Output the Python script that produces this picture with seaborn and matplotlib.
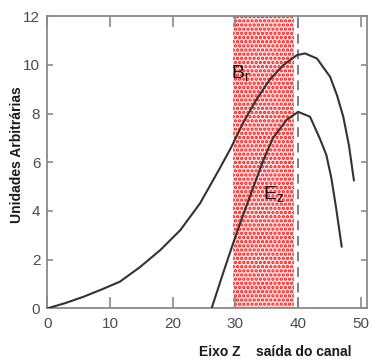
import matplotlib
matplotlib.use("Agg")
import matplotlib.pyplot as plt
import seaborn as sns
import pandas as pd

# ---- data ----
br_x = [0, 2.9, 5.8, 8.7, 11.6, 14.8, 18.0, 21.2, 24.35, 27.5, 29.3, 31.2, 33.4, 35.5, 37.6,
        39.8, 41.1, 43.0, 45.1, 46.2, 47.2, 48.1, 48.9]
br_y = [0, 0.22, 0.48, 0.78, 1.1, 1.7, 2.39, 3.21, 4.31, 5.75, 6.6, 7.6, 8.6, 9.4, 9.98,
        10.4, 10.47, 10.26, 9.51, 8.75, 7.87, 6.7, 5.25]

ez_x = [26.2, 28.1, 30.2, 32.1, 34.4, 36.0, 38.2, 40.0, 41.9, 43.5, 44.5, 45.3, 46.1, 46.95]
ez_y = [0.0, 1.5, 3.1, 4.45, 6.05, 7.0, 7.75, 8.07, 7.87, 6.95, 6.3, 5.35, 4.05, 2.53]

x_ticks = [0, 10, 20, 30, 40, 50]
y_ticks = [0, 2, 4, 6, 8, 10, 12]
band_x = [29.6, 39.4]
exit_x = 40

y_label = "Unidades Arbitrárias"
x_label_left = "Eixo Z"
x_label_right = "saída do canal"

sns.set_style("white")
plt.rcParams["font.family"] = ["Liberation Sans", "DejaVu Sans"]
plt.rcParams["hatch.linewidth"] = 1.6

fig = plt.figure(figsize=(3.71, 3.59), dpi=100)
ax = fig.add_axes([0.1275, 0.141, 0.862, 0.814])

# red speckled region
ax.axvspan(band_x[0], band_x[1], facecolor="#ffe6e6", edgecolor="#ff1010",
           hatch="....", linewidth=0, zorder=0)
ax.axvline(exit_x, color="#808080", lw=1.4, dashes=(5, 3), zorder=1)

df_b = pd.DataFrame({"x": br_x, "y": br_y})
df_e = pd.DataFrame({"x": ez_x, "y": ez_y})
sns.lineplot(data=df_b, x="x", y="y", ax=ax, color="#333333", lw=1.5, sort=False, zorder=3)
sns.lineplot(data=df_e, x="x", y="y", ax=ax, color="#333333", lw=1.5, sort=False, zorder=3)

ax.set_xlim(0, 51)
ax.set_ylim(0, 12)
ax.set_xticks(x_ticks)
ax.set_yticks(y_ticks)
ax.set_xlabel("")
ax.set_ylabel("")

for s in ax.spines.values():
    s.set_visible(True)
    s.set_color("#8a8a8a")
    s.set_linewidth(1.3)

ax.tick_params(axis="x", direction="in", length=8, width=1.2, color="#8a8a8a",
               top=True, bottom=True, labelsize=11, labelcolor="#4a4a58", pad=6)
ax.tick_params(axis="y", direction="in", length=4.5, width=1.2, color="#8a8a8a",
               left=True, right=True, labelsize=11, labelcolor="#4a4a58", pad=5)

ax.text(29.3, 9.65, r"$\mathregular{B_r}$", fontsize=14, ha="left", va="center",
        color="#111111", zorder=4)
ax.text(34.4, 4.7, r"$\mathregular{E_z}$", fontsize=14, ha="left", va="center",
        color="#111111", zorder=4)

fig.text(0.046, 0.568, y_label, rotation=90, ha="center", va="center",
         fontsize=10, fontweight="bold", color="#1a1a1a")
fig.text(0.593, 0.02, x_label_left, ha="center", va="center",
         fontsize=10, fontweight="bold", color="#1a1a1a")
fig.text(0.818, 0.02, x_label_right, ha="center", va="center",
         fontsize=10, fontweight="bold", color="#1a1a1a")

fig.savefig("out.png", dpi=100)
